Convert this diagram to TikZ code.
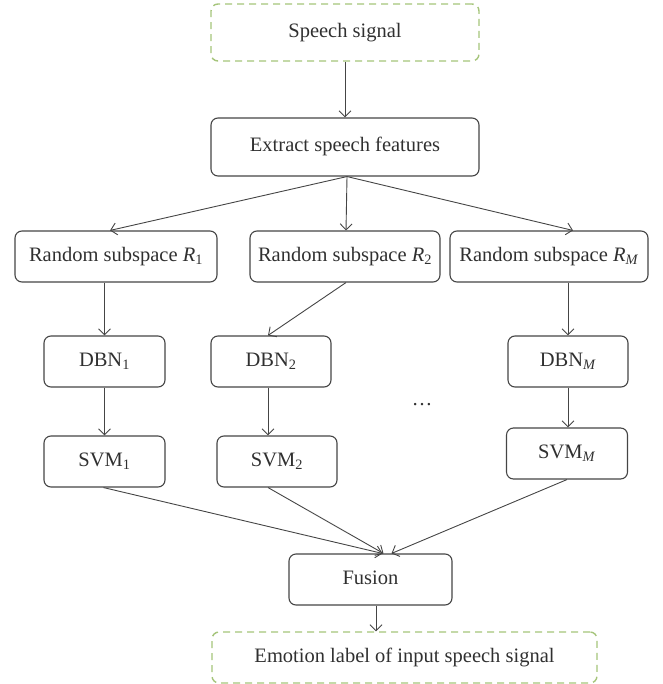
\documentclass[tikz,border=0pt]{standalone}
\usepackage{fontspec}
\setmainfont{Liberation Serif}
\usetikzlibrary{arrows.meta}
\definecolor{boxline}{HTML}{454545}
\definecolor{txt}{HTML}{303030}
\definecolor{dgreen}{HTML}{A5C47A}
\begin{document}
\begin{tikzpicture}[x=1pt,y=-1pt,
  box/.style={draw=boxline, line width=1.1pt, rounded corners=7pt, inner sep=0pt,
    text=txt, font=\fontsize{20.5}{24}\selectfont, text height=14pt, text depth=4pt,
    align=center, minimum height=51pt},
  io/.style={box, draw=dgreen, dash pattern=on 7pt off 5pt, line width=1.4pt},
  arr/.style={draw=boxline, line width=0.9pt, -{Straight Barb[length=6pt,width=12pt]}}]
\useasboundingbox (0,0) rectangle (662,684);

\node[io, minimum width=268pt, minimum height=57pt] (speech) at (345,32.5) {Speech signal};
\node[box, minimum width=268pt, minimum height=58pt] (extract) at (345,147) {Extract speech features};

\node[box, minimum width=202pt] (r1) at (116,256.5) {Random subspace \textit{R}\textsubscript{1}};
\node[box, minimum width=190pt] (r2) at (345,256.5) {Random subspace \textit{R}\textsubscript{2}};
\node[box, minimum width=198pt] (rm) at (549,256.5) {Random subspace \textit{R}\textsubscript{\textit{M}}};

\node[box, minimum width=121pt] (dbn1) at (104.5,361.5) {DBN\textsubscript{1}};
\node[box, minimum width=120pt] (dbn2) at (271,361.5) {DBN\textsubscript{2}};
\node[box, minimum width=120pt] (dbnm) at (568,361.5) {DBN\textsubscript{\textit{M}}};

\node[text=txt, font=\fontsize{20.5}{24}\selectfont, inner sep=0pt] (dots) at (422,405) {\dots};

\node[box, minimum width=121pt] (svm1) at (104.5,461.5) {SVM\textsubscript{1}};
\node[box, minimum width=120pt] (svm2) at (277,461.5) {SVM\textsubscript{2}};
\node[box, minimum width=121pt] (svmm) at (567,453.5) {SVM\textsubscript{\textit{M}}};

\node[box, minimum width=163pt] (fusion) at (370.5,579.5) {Fusion};
\node[io, minimum width=385pt] (emotion) at (404.5,657.5) {Emotion label of input speech signal};

% connectors
\draw[arr] (speech.south) -- (extract.north);
\draw[arr] ([xshift=2pt]extract.south) -- ([xshift=-6pt]r1.north);
\draw[arr] ([xshift=2pt]extract.south) -- ([xshift=1pt]r2.north);
\draw[arr] ([xshift=2pt]extract.south) -- ([xshift=24pt]rm.north);

\draw[arr] (dbn1.north |- r1.south) -- (dbn1.north);
\draw[arr] ([xshift=1pt]r2.south) -- ([xshift=-3pt]dbn2.north);
\draw[arr] (dbnm.north |- rm.south) -- (dbnm.north);

\coordinate (d2s) at ([xshift=-3pt]dbn2.south);
\draw[arr] (svm1.north |- dbn1.south) -- (svm1.north);
\draw[arr] (d2s) -- (d2s |- svm2.north);
\draw[arr] (dbnm.south) -- (dbnm.south |- svmm.north);

\draw[arr] ([xshift=-1pt]svm1.south) -- ([xshift=12pt]fusion.north);
\draw[arr] ([xshift=-9pt]svm2.south) -- ([xshift=13pt]fusion.north);
\draw[arr] (svmm.south) -- ([xshift=21pt]fusion.north);

\coordinate (fs) at ([xshift=5.5pt]fusion.south);
\draw[arr] (fs) -- (fs |- emotion.north);
\end{tikzpicture}
\end{document}
